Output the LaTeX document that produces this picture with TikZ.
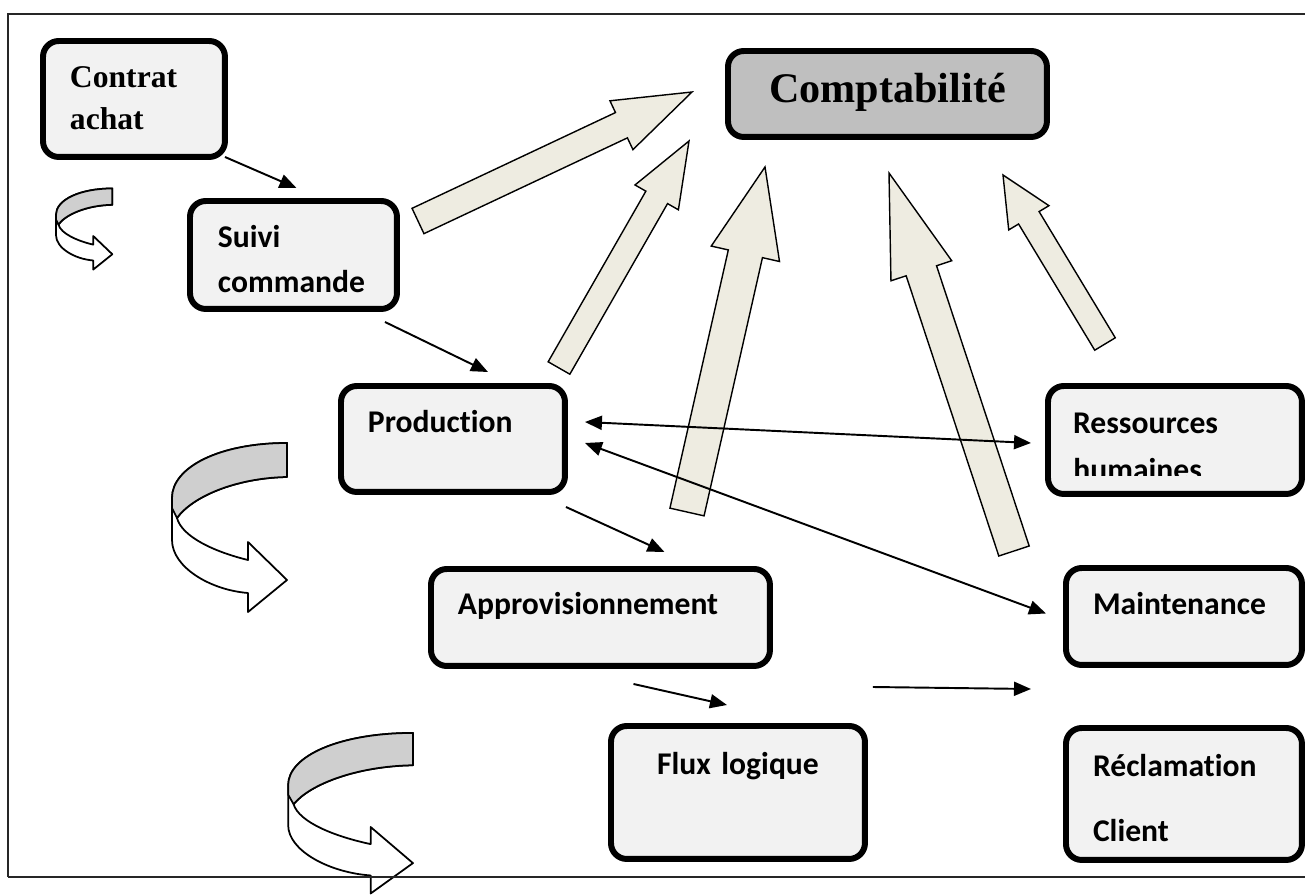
\documentclass[tikz,border=0pt]{standalone}
\usepackage{fontspec}
\setmainfont{Liberation Serif}
\newfontfamily\calibri[Ligatures=CommonOff]{Carlito}
\usepackage{tikz}
\usetikzlibrary{arrows.meta,calc,positioning}

\definecolor{arrowfill}{RGB}{238,236,225}

% wide arrow: name, tail, tip, half shaft, half head, head length
\newcommand{\blockarrow}[6]{%
  \coordinate (#1-t) at (#2);
  \coordinate (#1-p) at (#3);
  \coordinate (#1-h) at ($(#1-p)!#6!(#1-t)$);
  \draw[bigarrow] ($(#1-t)!#4!-90:(#1-p)$) -- ($(#1-h)!#4!-90:(#1-p)$)
    -- ($(#1-h)!#5!-90:(#1-p)$) -- (#1-p) -- ($(#1-h)!#5!90:(#1-p)$)
    -- ($(#1-h)!#4!90:(#1-p)$) -- ($(#1-t)!#4!90:(#1-p)$) -- cycle;
}

% turning ribbon arrow: corner, xscale, yscale
\newcommand{\turnarrow}[3]{%
  \begin{scope}[shift={(#1)}, xscale=#2, yscale=#3]
    \draw[ribbon] (117,1) .. controls (50,1) and (2,25) .. (2,56) -- (2,98)
      .. controls (2,125) and (40,148) .. (78,151) -- (78,170) -- (117,138)
      -- (78,100) -- (78,118) .. controls (45,110) and (12,95) .. (7,76)
      .. controls (22,55) and (65,36) .. (117,35) -- cycle;
    \draw[ribbonback] (117,1) .. controls (50,1) and (2,25) .. (2,56) -- (2,66)
      -- (7,76) .. controls (22,55) and (65,36) .. (117,35) -- cycle;
  \end{scope}}

\begin{document}
\begin{tikzpicture}[
  x=0.02cm, y=-0.02cm,
  box/.style={rectangle, rounded corners=9pt, draw=black, line width=3.4pt,
              fill=gray!10, align=left, anchor=north west, outer sep=0pt,
              inner xsep=0.54cm, inner ysep=0pt,
              font=\calibri\bfseries\fontsize{18pt}{25.5pt}\selectfont},
  serifbox/.style={box, font=\bfseries\fontsize{18pt}{23.8pt}\selectfont},
  boxtext/.style={inner sep=0pt, font=\calibri\bfseries\fontsize{18pt}{25.5pt}\selectfont},
  arrow/.style={-{Triangle[length=3.4mm,width=2.8mm]}, line width=1.1pt},
  twoway/.style={{Triangle[length=3.4mm,width=2.8mm]}-{Triangle[length=3.4mm,width=2.8mm]}, line width=1.1pt},
  bigarrow/.style={draw=black, fill=arrowfill, line width=0.8pt, line join=miter},
  ribbon/.style={draw=black, fill=white, line width=1pt, line join=round},
  ribbonback/.style={draw=black, fill=gray!38, line width=1pt, line join=round},
  frame/.style={line width=1.1pt, draw=black!85}
]
\useasboundingbox (0,0) rectangle (1305,895);

% Turning arrows on the left
\turnarrow{55,188}{0.49}{0.48}
\turnarrow{170,442}{1}{1}
\turnarrow{286,732}{1.085}{0.95}

% Frame
\draw[frame] (8,877) -- (8,14) -- (1305,14);
\draw[frame] (8,877) -- (1305,877);

% Wide arrows towards accounting
\blockarrow{sc}{418,221}{692,92}{0.28cm}{0.54cm}{1.56cm}
\blockarrow{pr}{559,368}{689,141}{0.25cm}{0.5cm}{1.3cm}
\blockarrow{ap}{687,512}{765,167}{0.35cm}{0.7cm}{1.78cm}
\blockarrow{mt}{1014,551}{889,173}{0.32cm}{0.64cm}{2.06cm}
\blockarrow{rh}{1105,344}{1003,175}{0.24cm}{0.47cm}{1.0cm}

% Boxes
\node[serifbox, text width=2.56cm, text height=0.94cm, text depth=1.38cm] (contrat) at (43,41) {Contrat\\achat};
\node[box, inner xsep=0.56cm, text width=3.02cm, text height=0.94cm, text depth=1.22cm] (suivi) at (190,201) {Suivi\\commande};
\node[box, fill=gray!50, align=center, text width=5.3cm, text height=1.04cm, text depth=0.68cm,
      font=\bfseries\fontsize{24pt}{28pt}\selectfont] (compta) at (728,51) {Comptabilité};
\node[box, text width=3.4cm, text height=0.94cm, text depth=1.18cm] (prod) at (341,386) {Production};
\node[box, inner xsep=0.5cm, text width=4.08cm, text height=0.96cm, text depth=1.2cm] (ress) at (1048,386) {Ressources};
\node[box, text width=5.7cm, text height=0.92cm, text depth=1.02cm] (approv) at (431,569) {Approvisionnement};
\node[box, text width=3.64cm, text height=0.94cm, text depth=1.0cm] (maint) at (1066,568) {Maintenance};
\node[box, align=center, text width=4cm, text height=0.98cm, text depth=1.68cm] (flux) at (611,726) {Flux logique};
\node[box, text width=3.64cm, text height=0.98cm, text depth=1.66cm,
      font=\calibri\bfseries\fontsize{18pt}{36.8pt}\selectfont] (recl) at (1066,728) {Réclamation\\Client};

% second line of Ressources, cut by the box
\begin{scope}
  \clip (1052,440) rectangle (1298,475);
  \node[boxtext, anchor=base west] (hum) at (1073,480) {humaines};
\end{scope}

% Thin arrows
\draw[arrow] (contrat.south east) -- ($(suivi.north)+(3,-13)$);
\draw[arrow] ($(suivi.south east)+(-12,13)$) -- ($(prod.north)+(35,-14)$);
\draw[arrow] ($(prod.south east)+(1,15)$) -- ($(approv.north)+(64,-17)$);
\draw[arrow] ($(approv.south)+(33,18)$) -- ($(flux.north)+(-11,-21)$);
\draw[arrow] ($(flux.north east)+(8,-39)$) -- ($(recl.north west)+(-35,-39)$);
\draw[twoway] ($(prod.east)+(20,-17)$) -- ($(ress.west)+(-17,3)$);
\draw[twoway] ($(prod.east)+(20,4)$) -- ($(maint.west)+(-20,-3)$);

\end{tikzpicture}
\end{document}
